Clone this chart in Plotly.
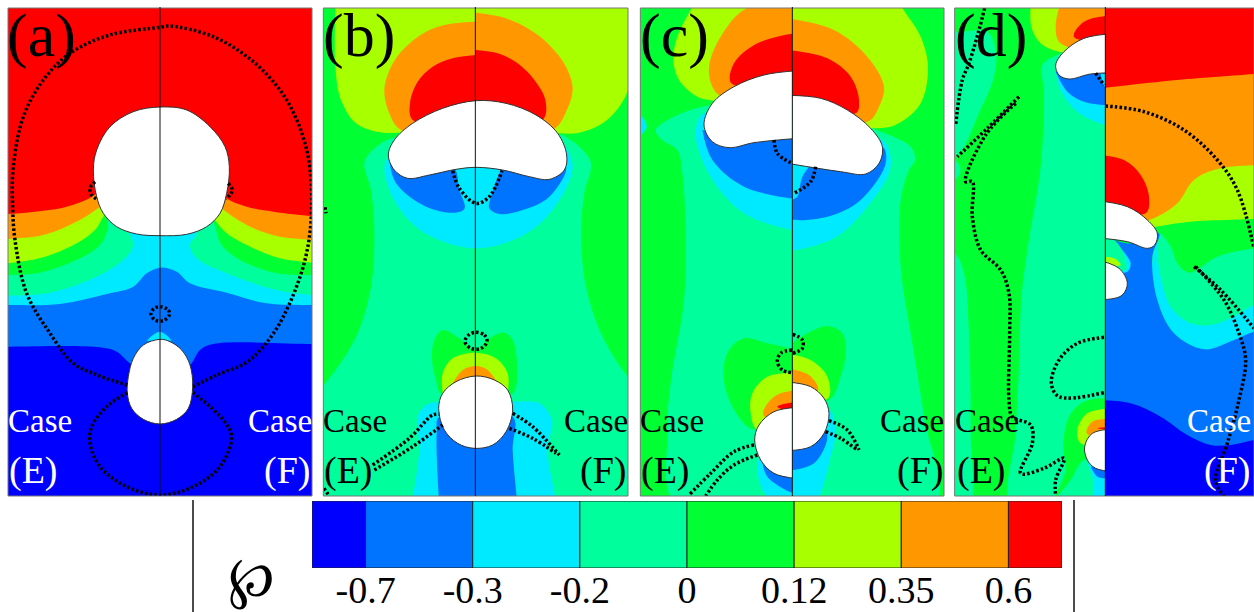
import plotly.graph_objects as go

W, H = 1254, 612
BLUE, AZURE, CYAN, SPRING, GREEN, LIME, ORANGE, RED = (
    "#0000ff", "#0073ff", "#00eaff", "#00ff9c", "#00ff33", "#a8ff00", "#ff9800", "#ff0000")

LEVELS = [-0.7, -0.3, -0.2, 0, 0.12, 0.35, 0.6]
LEVEL_LABELS = ["-0.7", "-0.3", "-0.2", "0", "0.12", "0.35", "0.6"]
BAND_COLORS = [BLUE, AZURE, CYAN, SPRING, GREEN, LIME, ORANGE, RED]

# ---------- panel (a) contours ----------
A_ORANGE = [(-60,645),(24,642),(130,632),(200,620),(280,588),(340,530),(480,480),(620,530),(672,590),(740,620),(820,635),(936,648),(1000,650),(1000,1600),(-60,1600)]
A_LIME = [(-60,722),(24,717),(130,705),(220,670),(300,620),(360,560),(480,530),(600,560),(665,625),(740,675),(830,708),(936,720),(1000,725),(1000,1600),(-60,1600)]
A_GREEN = [(-60,795),(24,790),(130,772),(230,730),(285,690),(310,650),(345,600),(480,560),(610,600),(645,660),(680,700),(740,735),(840,775),(936,788),(1000,792),(1000,1600),(-60,1600)]
A_SPRING = [(-60,828),(24,825),(120,818),(240,775),(300,735),(322,690),(325,650),(350,600),(480,580),(620,610),(645,680),(665,735),(720,780),(830,820),(936,825),(1000,827),(1000,1600),(-60,1600)]
A_CYAN = [(-60,889),(24,887),(150,878),(300,825),(380,770),(400,735),(390,700),(400,660),(480,640),(570,660),(590,700),(570,735),(590,775),(680,820),(830,870),(936,885),(1000,887),(1000,1600),(-60,1600)]
A_AZURE = [(-60,915),(24,915),(180,912),(330,880),(400,860),(440,820),(480,803),(530,815),(570,850),(680,878),(800,910),(936,915),(1000,915),(1000,1600),(-60,1600)]
A_TIP = [(440,1022),(460,1004),(480,995),(500,1006),(515,1022)]
A_BLUE = [(-60,1040),(24,1040),(300,1042),(350,1055),(390,1090),(480,1150),(570,1095),(600,1050),(640,1032),(936,1032),(1000,1032),(1000,1600),(-60,1600)]
A_DROP_TOP = [(480,321),(400,335),(330,380),(290,450),(280,510),(290,590),(310,640),(350,680),(410,702),(480,707),(560,703),(620,680),(660,640),(680,580),(688,500),(675,440),(630,380),(560,330),(480,321)]
A_DROP_LOW = [(480,1018),(430,1035),(400,1075),(385,1130),(382,1180),(395,1225),(430,1258),(480,1272),(530,1258),(565,1225),(578,1160),(570,1095),(545,1050),(510,1025),(480,1018)]
A_DOT_OUTER = [(382,1155),(300,1128),(220,1090),(150,1000),(80,880),(45,720),(38,620),(40,500),(70,350),(130,240),(210,160),(330,105),(480,82),(510,78),(640,110),(760,185),(860,300),(920,450),(935,620),(915,780),(850,950),(790,1040),(735,1090),(650,1125),(580,1160)]
A_DOT_LOWER = [(382,1178),(320,1220),(275,1280),(270,1330),(300,1400),(380,1460),(480,1485),(580,1460),(660,1400),(695,1310),(670,1260),(580,1178)]
A_DOT_RING = [(480,920),(505,930),(508,945),(490,962),(465,960),(453,942),(462,926),(480,920)]
A_DOT_L = [(285,545),(270,565),(275,585),(290,597)]
A_DOT_R = [(685,550),(697,570),(690,585),(678,597)]

# ---------- panel (b) contours ----------
B_LIME = [(60,-20),(58,200),(75,300),(120,370),(190,397),(260,398),(700,400),(790,398),(860,370),(910,320),(940,260),(1000,-20)]
B_ORANGE_L = [(480,65),(400,72),(330,95),(265,145),(225,200),(205,270),(220,340),(255,390),(480,400)]
B_ORANGE_R = [(480,38),(560,52),(640,88),(705,140),(750,200),(770,265),(755,325),(710,390),(480,400)]
B_RED_L = [(480,165),(410,175),(350,200),(305,245),(282,310),(290,360),(480,400)]
B_RED_R = [(480,150),(545,160),(605,190),(655,240),(688,300),(680,360),(480,400)]
B_SPRING = [(480,400),(236,412),(170,450),(145,490),(165,570),(175,700),(165,860),(120,1010),(24,1155),(-40,1220),(-40,1600),(1010,1600),(1010,1200),(936,1130),(860,1010),(810,860),(795,700),(805,580),(825,490),(790,440),(740,405)]
B_CYAN_TOP = [(480,400),(250,420),(216,470),(205,510),(240,610),(320,695),(480,745),(640,695),(730,600),(770,500),(750,440)]
B_AZURE_L = [(220,480),(240,550),(330,620),(420,638),(446,625),(430,570),(412,500),(300,480)]
B_AZURE_R = [(556,505),(525,590),(520,625),(550,642),(620,630),(700,590),(750,500),(700,480)]
B_LOBE = [(380,990),(355,1020),(348,1080),(360,1140),(375,1180),(480,1180),(590,1180),(603,1110),(590,1020),(565,998),(520,1015),(480,1050),(430,1015),(380,990)]
B_LOBE_LIME = [(380,1180),(380,1120),(410,1075),(480,1058),(540,1075),(575,1120),(575,1180)]
B_LOBE_ORANGE = [(410,1150),(440,1110),(480,1098),(515,1110),(545,1150)]
B_CYAN_LOW = [(285,1520),(310,1350),(305,1250),(330,1215),(370,1205),(590,1205),(670,1210),(708,1260),(695,1350),(725,1520)]
B_AZURE_LOW = [(370,1520),(362,1300),(370,1250),(590,1250),(590,1350),(605,1520)]
B_DROP_TOP = [(480,302),(380,325),(290,370),(235,420),(217,465),(235,510),(275,535),(340,525),(420,508),(480,502),(560,510),(640,530),(700,538),(745,510),(752,465),(725,400),(660,345),(570,310),(480,302)]
B_DROP_LOW = [(480,1128),(420,1145),(380,1180),(368,1225),(385,1290),(425,1330),(475,1345),(530,1335),(570,1295),(590,1230),(575,1170),(535,1140),(480,1128)]
B_DOT_CUP = [(410,512),(430,565),(480,610),(520,590),(558,512)]
B_DOT_RING = [(480,997),(505,1005),(513,1025),(495,1045),(465,1045),(447,1025),(458,1005),(480,997)]
B_DOT_E1 = [(170,1395),(280,1315),(350,1245),(370,1243)]
B_DOT_E2 = [(175,1410),(290,1340),(380,1275)]
B_DOT_F1 = [(590,1240),(650,1280),(730,1365)]
B_DOT_F2 = [(580,1285),(650,1315),(720,1360)]
B_DOT_C1 = [(24,1465),(40,1488)]
B_DOT_C2 = [(27,622),(30,640)]

# ---------- panel (c) contours ----------
C_LIME = [(200,-20),(130,110),(118,180),(135,240),(190,290),(245,303),(720,385),(790,372),(860,310),(882,200),(860,110),(805,24),(780,-20)]
C_ORANGE_L = [(490,24),(340,24),(260,110),(225,200),(235,260),(265,290),(490,300)]
C_ORANGE_R = [(460,55),(600,90),(700,170),(750,260),(735,320),(700,365),(460,300)]
C_RED_L = [(490,98),(370,130),(300,190),(292,250),(490,250)]
C_RED_R = [(460,150),(580,175),(650,230),(675,300),(665,340),(460,290)]
C_SPRING = [(474,300),(230,315),(120,350),(65,390),(85,420),(130,450),(145,520),(155,700),(150,900),(110,1150),(100,1300),(130,1520),(900,1520),(870,1250),(830,1000),(800,800),(800,600),(825,510),(843,480),(830,440),(740,395)]
C_CYAN_EDGE = [(0,345),(19,345),(38,380),(19,405),(0,405)]
C_CYAN_L = [(490,400),(210,340),(185,400),(230,530),(330,640),(474,690),(490,690)]
C_CYAN_R = [(460,755),(600,715),(700,620),(770,500),(745,420),(460,420)]
C_AZURE_L = [(205,390),(235,480),(330,560),(474,595),(490,595),(490,400),(300,420)]
C_AZURE_R = [(530,495),(505,530),(490,590),(476,600),(460,652),(580,650),(680,600),(755,490),(745,440),(600,500)]
C_LOBE_L = [(490,1050),(400,1030),(330,1015),(285,1050),(268,1120),(290,1210),(340,1280),(370,1290),(490,1290)]
C_LOBE_R = [(460,1040),(520,1000),(580,978),(625,1000),(635,1060),(620,1130),(585,1200),(460,1200)]
C_LIME_L = [(490,1118),(400,1130),(355,1180),(350,1240),(370,1290),(490,1290)]
C_LIME_R = [(460,1062),(530,1080),(580,1130),(582,1195),(460,1190)]
C_ORANGE_LOW_L = [(490,1170),(420,1190),(388,1245),(490,1290)]
C_ORANGE_LOW_R = [(460,1105),(525,1125),(552,1170),(460,1190)]
C_RED_LOW = [(490,1205),(430,1220),(490,1240)]
C_CYAN_LOW_L = [(370,1380),(375,1440),(400,1488),(490,1520),(490,1350)]
C_CYAN_LOW_R = [(460,1360),(585,1230),(605,1290),(590,1370),(535,1520),(460,1520)]
C_AZURE_LOW_L = [(385,1385),(400,1430),(474,1478),(490,1478),(490,1380)]
C_AZURE_LOW_R = [(460,1412),(540,1390),(580,1310),(560,1280),(460,1340)]
C_DROP_TOP_L = [(490,212),(390,225),(300,260),(235,310),(210,375),(235,425),(285,443),(360,428),(490,415)]
C_DROP_TOP_R = [(460,286),(560,295),(640,330),(710,385),(745,440),(735,490),(695,522),(620,515),(460,490)]
C_DROP_LOW_L = [(490,1222),(420,1235),(375,1275),(362,1320),(380,1380),(420,1420),(490,1436)]
C_DROP_LOW_R = [(460,1146),(530,1160),(570,1195),(585,1240),(570,1300),(530,1340),(460,1352)]
C_DOT_1 = [(420,420),(430,460),(470,488)]
C_DOT_2 = [(545,500),(530,545),(480,580)]
C_DOT_3 = [(474,1050),(440,1060),(430,1085),(445,1110),(474,1118)]
C_DOT_4 = [(476,1003),(505,1020),(505,1045),(476,1060)]
C_DOT_5 = [(360,1335),(300,1355),(230,1420),(165,1485)]
C_DOT_6 = [(370,1365),(300,1395),(250,1440),(215,1488)]
C_DOT_7 = [(585,1262),(640,1290),(675,1350)]
C_DOT_8 = [(575,1295),(620,1315),(670,1350)]

# ---------- panel (d) contours ----------
D_SPRING_R = [(520,100),(340,165),(295,195),(300,280),(290,500),(250,750),(232,900),(225,1100),(215,1300),(205,1520),(520,1520)]
D_SPRING_EDGE = [(0,760),(32,760),(60,820),(75,1000),(80,1300),(75,1520),(0,1520)]
D_SPRING_NOTCH = [(0,480),(32,480),(50,510),(32,540),(0,540)]
D_SPRING_TOP = [(0,95),(55,95),(130,95),(155,150),(150,230),(100,350),(60,440),(32,470),(0,470)]
D_LOBE = [(520,1195),(420,1205),(375,1250),(358,1340),(365,1410),(335,1490),(380,1440),(420,1380),(520,1400)]
D_LIME_TOP = [(262,-10),(262,80),(290,130),(345,155),(520,155),(520,-10)]
D_ORANGE_TOP = [(355,-10),(335,80),(350,130),(520,150),(520,-10)]
D_RED_TOP = [(520,45),(420,65),(390,110),(520,130)]
D_CYAN_TOP = [(335,190),(345,260),(400,335),(484,375),(520,380),(520,200)]
D_AZURE_TOP = [(335,215),(370,275),(420,305),(484,315),(520,315),(520,220)]
D_CYAN_TIP = [(470,222),(484,262),(500,265),(500,222)]
D_LIME_LOW = [(520,1225),(430,1240),(400,1290),(410,1330),(520,1330)]
D_ORANGE_LOW = [(520,1258),(445,1265),(428,1300),(520,1320)]
D_RED_LOW = [(520,1280),(460,1285),(520,1290)]
D_CYAN_LOW = [(430,1390),(450,1450),(445,1520),(520,1520),(520,1400)]
D_AZURE_LOW = [(440,1400),(460,1430),(484,1435),(520,1435),(520,1400)]
D_DROP_TOP_L = [(520,100),(420,115),(360,155),(335,195),(345,225),(375,237),(440,222),(520,218)]
D_DROP_LOW_L = [(520,1286),(445,1300),(422,1340),(430,1380),(455,1405),(520,1416)]
D_DOT_1 = [(122,24),(105,90),(75,190),(55,240),(35,375)]
D_DOT_2 = [(225,290),(130,385),(40,470)]
D_DOT_3 = [(215,310),(125,405),(65,545),(85,545),(85,650),(110,750),(170,810),(195,880),(197,1000),(195,1200),(205,1250),(260,1275),(265,1330),(230,1420),(300,1405),(360,1375),(335,1440),(335,1488)]
D_DOT_4 = [(480,1012),(400,1030),(345,1080),(322,1150),(345,1190),(480,1178)]
D_DOT_5 = [(455,220),(480,255)]

D_ORANGE_R = [(440,268),(700,240),(930,222),(1000,215),(1000,1600),(440,1600)]
D_RED_BLOB = [(440,462),(540,480),(590,525),(615,590),(605,640),(440,605)]
D_LIME_R = [(1000,495),(830,505),(750,540),(700,610),(630,655),(440,720),(440,1600),(1000,1600)]
D_GREEN_R = [(1000,655),(850,660),(740,665),(635,680),(440,720),(440,1600),(1000,1600)]
D_SPRING_BAND = [(1000,735),(930,745),(820,770),(735,818),(700,790),(680,740),(645,700),(640,1100),(1000,1100)]
D_CYAN_BAND = [(1000,900),(930,915),(870,950),(800,975),(740,970),(680,920),(650,830),(640,760),(645,700),(620,1100),(1000,1100)]
D_AZURE_R = [(1000,990),(930,995),(870,1020),(780,1048),(690,1000),(640,900),(625,770),(645,700),(560,730),(440,715),(440,1600),(1000,1600)]
D_CYAN_STREAK = [(505,715),(550,770),(560,790),(550,815),(440,800),(440,715)]
D_SPRING_GAP = [(440,715),(510,720),(545,780),(545,810),(440,800)]
D_LIME_GAP = [(440,770),(510,775),(530,795),(440,790)]
D_BLUE_R = [(440,1200),(560,1210),(650,1250),(730,1305),(800,1335),(860,1335),(930,1320),(1000,1310),(1000,1600),(440,1600)]
D_DROP_TOP_R = [(440,600),(550,620),(610,660),(640,700),(632,735),(610,745),(550,725),(440,712)]
D_DROP_LOW_R = [(440,775),(525,805),(550,850),(535,885),(500,897),(440,897)]
D_DOT_6 = [(484,318),(600,335),(720,390),(820,480),(880,570),(930,745)]
D_DOT_7 = [(750,800),(830,870),(930,985)]
D_DOT_8 = [(755,800),(840,900),(885,1000),(905,1080),(885,1200),(850,1330),(815,1440),(840,1490)]

# one entry per clipped drawing region
REGIONS = [
    dict(off=0, x0=24, x1=936, bg=RED,
         fills=[(ORANGE,A_ORANGE),(LIME,A_LIME),(GREEN,A_GREEN),(SPRING,A_SPRING),(CYAN,A_CYAN),(AZURE,A_AZURE),(BLUE,A_BLUE),(CYAN,A_TIP)],
         drops=[A_DROP_TOP,A_DROP_LOW],
         dots=[A_DOT_OUTER,A_DOT_LOWER,A_DOT_RING,A_DOT_L,A_DOT_R]),
    dict(off=316, x0=22, x1=936, bg=GREEN,
         fills=[(LIME,B_LIME),(ORANGE,B_ORANGE_L),(ORANGE,B_ORANGE_R),(RED,B_RED_L),(RED,B_RED_R),(SPRING,B_SPRING),(CYAN,B_CYAN_TOP),(AZURE,B_AZURE_L),(AZURE,B_AZURE_R),
                (GREEN,B_LOBE),(LIME,B_LOBE_LIME),(ORANGE,B_LOBE_ORANGE),(CYAN,B_CYAN_LOW),(AZURE,B_AZURE_LOW)],
         drops=[B_DROP_TOP,B_DROP_LOW],
         dots=[B_DOT_CUP,B_DOT_RING,B_DOT_E1,B_DOT_E2,B_DOT_F1,B_DOT_F2,B_DOT_C1,B_DOT_C2]),
    dict(off=634, x0=19, x1=475, bg=GREEN,
         fills=[(LIME,C_LIME),(ORANGE,C_ORANGE_L),(RED,C_RED_L),(SPRING,C_SPRING),(CYAN,C_CYAN_EDGE),(CYAN,C_CYAN_L),(AZURE,C_AZURE_L),
                (GREEN,C_LOBE_L),(LIME,C_LIME_L),(ORANGE,C_ORANGE_LOW_L),(RED,C_RED_LOW),(CYAN,C_CYAN_LOW_L),(AZURE,C_AZURE_LOW_L)],
         drops=[C_DROP_TOP_L,C_DROP_LOW_L],
         dots=[C_DOT_1,C_DOT_3,C_DOT_5,C_DOT_6]),
    dict(off=634, x0=475, x1=930, bg=GREEN,
         fills=[(LIME,C_LIME),(ORANGE,C_ORANGE_R),(RED,C_RED_R),(SPRING,C_SPRING),(CYAN,C_CYAN_R),(AZURE,C_AZURE_R),
                (GREEN,C_LOBE_R),(LIME,C_LIME_R),(ORANGE,C_ORANGE_LOW_R),(CYAN,C_CYAN_LOW_R),(AZURE,C_AZURE_LOW_R)],
         drops=[C_DROP_TOP_R,C_DROP_LOW_R],
         dots=[C_DOT_2,C_DOT_4,C_DOT_7,C_DOT_8]),
    dict(off=944, x0=32, x1=484, bg=GREEN,
         fills=[(SPRING,D_SPRING_R),(SPRING,D_SPRING_EDGE),(SPRING,D_SPRING_NOTCH),(SPRING,D_SPRING_TOP),(GREEN,D_LOBE),(LIME,D_LIME_TOP),(ORANGE,D_ORANGE_TOP),(RED,D_RED_TOP),
                (CYAN,D_CYAN_TOP),(AZURE,D_AZURE_TOP),(CYAN,D_CYAN_TIP),(LIME,D_LIME_LOW),(ORANGE,D_ORANGE_LOW),(RED,D_RED_LOW),(CYAN,D_CYAN_LOW),(AZURE,D_AZURE_LOW)],
         drops=[D_DROP_TOP_L,D_DROP_LOW_L],
         dots=[D_DOT_1,D_DOT_2,D_DOT_3,D_DOT_4,D_DOT_5]),
    dict(off=944, x0=484, x1=930, bg=RED,
         fills=[(ORANGE,D_ORANGE_R),(RED,D_RED_BLOB),(LIME,D_LIME_R),(GREEN,D_GREEN_R),(SPRING,D_SPRING_BAND),(CYAN,D_CYAN_BAND),(AZURE,D_AZURE_R),(CYAN,D_CYAN_STREAK),(SPRING,D_SPRING_GAP),(LIME,D_LIME_GAP),(BLUE,D_BLUE_R)],
         drops=[D_DROP_TOP_R,D_DROP_LOW_R],
         dots=[D_DOT_6,D_DOT_7,D_DOT_8]),
]

PANEL_BOXES = [(0,24,936,480), (316,22,936,478), (634,19,930,475), (944,32,930,484)]
PANEL_TEXT = [
    ("(a)", 0, 125, ("white","white"), (120,840,100,862)),
    ("(b)", 316, 128, ("black","black"), (117,840,97,860)),
    ("(c)", 634, 120, ("black","black"), (115,835,95,857)),
    ("(d)", 944, 142, ("black","white"), (130,825,112,848)),
]

ZY0, ZY1 = 24, 1488
FONT = "Liberation Serif"
SMOOTH = 1.0
fig = go.Figure()
layout = dict(width=W, height=H, margin=dict(l=0, r=0, t=0, b=0, autoexpand=False), autosize=False,
              paper_bgcolor="white", plot_bgcolor="white", showlegend=False)
annots, shapes = [], []
px = lambda off, zx: (off + zx / 3) / W
py = lambda zy: 1 - zy / 3 / H


def area(color, pts, xa, ya):
    fig.add_trace(go.Scatter(x=[p[0] for p in pts], y=[p[1] for p in pts], xaxis=xa, yaxis=ya,
                             mode="lines", fill="toself", fillcolor=color,
                             line=dict(color=color, width=0, shape="spline", smoothing=SMOOTH),
                             hoverinfo="skip"))


for i, r in enumerate(REGIONS, start=1):
    n = "" if i == 1 else str(i)
    xa, ya = f"x{n}", f"y{n}"
    layout[f"xaxis{n}"] = dict(domain=[px(r["off"], r["x0"]), min(px(r["off"], r["x1"]), 1)], range=[r["x0"], r["x1"]],
                               visible=False, anchor=ya, fixedrange=True, automargin=False)
    layout[f"yaxis{n}"] = dict(domain=[py(ZY1), py(ZY0)], range=[ZY1, ZY0],
                               visible=False, anchor=xa, fixedrange=True, automargin=False)
    area(r["bg"], [(r["x0"] - 60, ZY0 - 60), (r["x1"] + 60, ZY0 - 60), (r["x1"] + 60, ZY1 + 60), (r["x0"] - 60, ZY1 + 60)], xa, ya)
    for c, pts in r["fills"]:
        area(c, pts, xa, ya)
    for pts in r["drops"]:
        fig.add_trace(go.Scatter(x=[q[0] for q in pts], y=[q[1] for q in pts], xaxis=xa, yaxis=ya,
                                 mode="lines", fill="toself", fillcolor="white",
                                 line=dict(color="#333333", width=1, shape="spline", smoothing=SMOOTH),
                                 hoverinfo="skip"))
    for pts in r["dots"]:
        fig.add_trace(go.Scatter(x=[q[0] for q in pts], y=[q[1] for q in pts], xaxis=xa, yaxis=ya,
                                 mode="lines",
                                 line=dict(color="black", width=3.5, dash="2.5px,2.2px", shape="spline", smoothing=SMOOTH),
                                 hoverinfo="skip"))

for off, x0, x1, mid in PANEL_BOXES:
    shapes.append(dict(type="rect", xref="paper", yref="paper", x0=px(off, x0), x1=min(px(off, x1), 1),
                       y0=py(ZY1), y1=py(ZY0), line=dict(color="#777777", width=1), layer="above"))
    shapes.append(dict(type="line", xref="paper", yref="paper", x0=px(off, mid), x1=px(off, mid),
                       y0=py(ZY1), y1=py(ZY0 - 3), line=dict(color="#111111", width=1), layer="above"))

for tag, off, tagx, ink, lab in PANEL_TEXT:
    annots.append(dict(x=px(off, tagx), y=py(105), xref="paper", yref="paper", text=tag, showarrow=False,
                       font=dict(family=FONT, size=62, color="black"), xanchor="center", yanchor="middle"))
    lx, rx, ex, fx = lab
    for tx, ty, t, col, sz in [(lx, 1262, "Case", ink[0], 33), (rx, 1262, "Case", ink[1], 33),
                               (ex, 1410, "(E)", ink[0], 38), (fx, 1410, "(F)", ink[1], 38)]:
        annots.append(dict(x=px(off, tx), y=py(ty), xref="paper", yref="paper", text=t, showarrow=False,
                           font=dict(family=FONT, size=sz, color=col), xanchor="center", yanchor="middle"))

# colour bar
bar_x = [-0.25] + [i + 0.5 for i in range(6)] + [6.25]
bar_w = [0.5] + [1] * 6 + [0.5]
fig.add_trace(go.Bar(x=bar_x, y=[1] * 8, width=bar_w, marker=dict(color=BAND_COLORS, line=dict(color="#222222", width=1)),
                     xaxis="x9", yaxis="y9", hoverinfo="skip"))
layout["xaxis9"] = dict(domain=[312 / W, 1062 / W], range=[-0.5, 6.5], anchor="y9", tickmode="array",
                        tickvals=list(range(7)), ticktext=LEVEL_LABELS, ticks="", showgrid=False, zeroline=False,
                        showline=False, tickfont=dict(family=FONT, size=38, color="black"), fixedrange=True,
                        automargin=False, ticklabelstandoff=-4)
layout["yaxis9"] = dict(domain=[1 - 568 / H, 1 - 501 / H], range=[0, 1], anchor="x9", visible=False, fixedrange=True, automargin=False)

for lx in (193, 1074):
    shapes.append(dict(type="line", xref="paper", yref="paper", x0=lx / W, x1=lx / W, y0=0, y1=1 - 500 / H,
                       line=dict(color="#111111", width=1.5)))
annots.append(dict(x=251 / W, y=1 - 577 / H, xref="paper", yref="paper", text="℘", showarrow=False,
                   font=dict(family="DejaVu Serif", size=56, color="black"), xanchor="center", yanchor="middle"))

layout["annotations"] = annots
layout["shapes"] = shapes
fig.update_layout(**layout)
fig.write_html("out.html", config=dict(displayModeBar=False),
               post_script="document.body.style.margin='0';document.body.style.overflow='hidden';window.dispatchEvent(new Event('resize'));")
